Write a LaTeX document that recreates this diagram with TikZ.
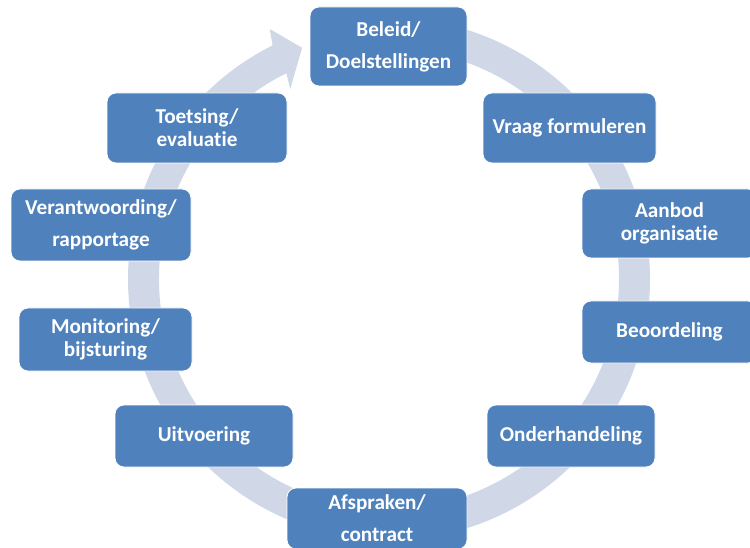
\documentclass[tikz,border=0pt]{standalone}
\usepackage{fontspec}
\setmainfont{Carlito}[Ligatures=CommonOff]
\definecolor{boxblue}{HTML}{4F81BD}
\definecolor{ringgray}{HTML}{D0D8E8}
\begin{document}
\begin{tikzpicture}[x=1pt,y=1pt,
  stage/.style={rectangle, rounded corners=9pt, fill=boxblue, draw=white, line width=0.8pt,
    text=white, font=\fontsize{21.2}{23}\selectfont\bfseries, align=center, inner sep=0pt},
  loose/.style={font=\fontsize{21.2}{32}\selectfont\bfseries}]
\useasboundingbox (0,0) rectangle (750,547);
\clip (0,0) rectangle (750,547);
% circular arrow
\begin{scope}[shift={(389,268)}]
\fill[ringgray] (95:261) arc[start angle=95, end angle=-243.5, radius=261]
  -- (115.5:277) -- (110.6:247) -- (117.5:214) -- (116.5:230)
  arc[start angle=116.5, end angle=455, radius=230] -- cycle;
\end{scope}
% stages
\node[stage, loose, minimum width=157, minimum height=79] (beleid) at (388.5,500.5) {Beleid/\\Doelstellingen};
\node[stage, minimum width=173, minimum height=70] (vraag) at (569.5,419) {Vraag formuleren};
\node[stage, minimum width=175, minimum height=69] (aanbod) at (669.5,323.5) {Aanbod\\organisatie};
\node[stage, minimum width=175, minimum height=62] (beoordeling) at (669.5,215) {Beoordeling};
\node[stage, minimum width=168, minimum height=62] (onderhandeling) at (571,111) {Onderhandeling};
\node[stage, loose, minimum width=180, minimum height=61] (afspraken) at (377,28.5) {Afspraken/\\contract};
\node[stage, minimum width=178, minimum height=62] (uitvoering) at (204,111) {Uitvoering};
\node[stage, minimum width=173, minimum height=63] (monitoring) at (105.5,207.5) {Monitoring/\\bijsturing};
\node[stage, loose, minimum width=180, minimum height=72] (verantwoording) at (101,322) {Verantwoording/\\rapportage};
\node[stage, minimum width=180, minimum height=70] (toetsing) at (197,419) {Toetsing/\\evaluatie};
\end{tikzpicture}
\end{document}
